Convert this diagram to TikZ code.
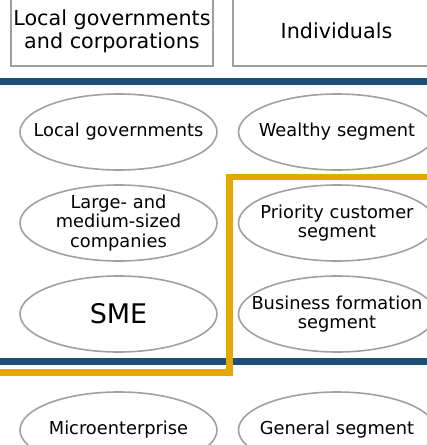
\documentclass[tikz,border=0pt]{standalone}
\usepackage{fontspec}
\setmainfont{DejaVu Sans}
\usepackage{xcolor}
\definecolor{navy}{RGB}{31,78,121}
\definecolor{gold}{RGB}{229,168,0}
\definecolor{rim}{RGB}{160,160,160}
\usepackage{tikz}
\usetikzlibrary{matrix}
\usetikzlibrary{shapes.geometric}
\usetikzlibrary{positioning}

\begin{document}
\begin{tikzpicture}[x=1pt,y=-1pt,
  box/.style={draw=rim,line width=1.2pt,align=center,inner sep=0pt,outer sep=0pt,minimum height=70pt,font=\fontsize{20.7}{23}\selectfont}]
\useasboundingbox (0,0) rectangle (427,445);
\clip (0,0) rectangle (427,445);
\node (corp) at (112,31) [box,minimum width=202pt]{Local governments\\and corporations};
\node (indiv) [box,right=20pt of corp,minimum width=207pt]{Individuals};
\draw[navy,line width=6.5pt] (0,81.5) -- (427,81.5);
\draw[navy,line width=6.5pt] (0,361.5) -- (427,361.5);
\matrix (seg) [matrix of nodes,anchor=north west,inner sep=0pt,outer sep=0pt,
  row sep={91pt,between origins},column sep={218.5pt,between origins},
  row 4/.style={nodes={yshift=-25pt}},
  nodes={anchor=center,inner sep=3pt,minimum width=197pt,minimum height=76pt,text width=190pt,align=center,font=\fontsize{17.8}{19.5}\selectfont}] at (20,94)
{
Local governments & Wealthy segment \\
Large- and\par medium-sized\par companies & Priority customer\par segment \\
|[font=\fontsize{27}{30}\selectfont]| SME & Business formation\par segment \\
Microenterprise & General segment \\
};
\foreach \r in {1,...,4}
  \foreach \c in {1,2}
    \draw[rim,line width=1.6pt] (seg-\r-\c.center) ellipse [x radius=98.5pt,y radius=38pt];
\draw[gold,line width=6.5pt] (-5,372.5) -- (229.5,372.5) -- (229.5,177) -- (432,177);
\end{tikzpicture}
\end{document}
